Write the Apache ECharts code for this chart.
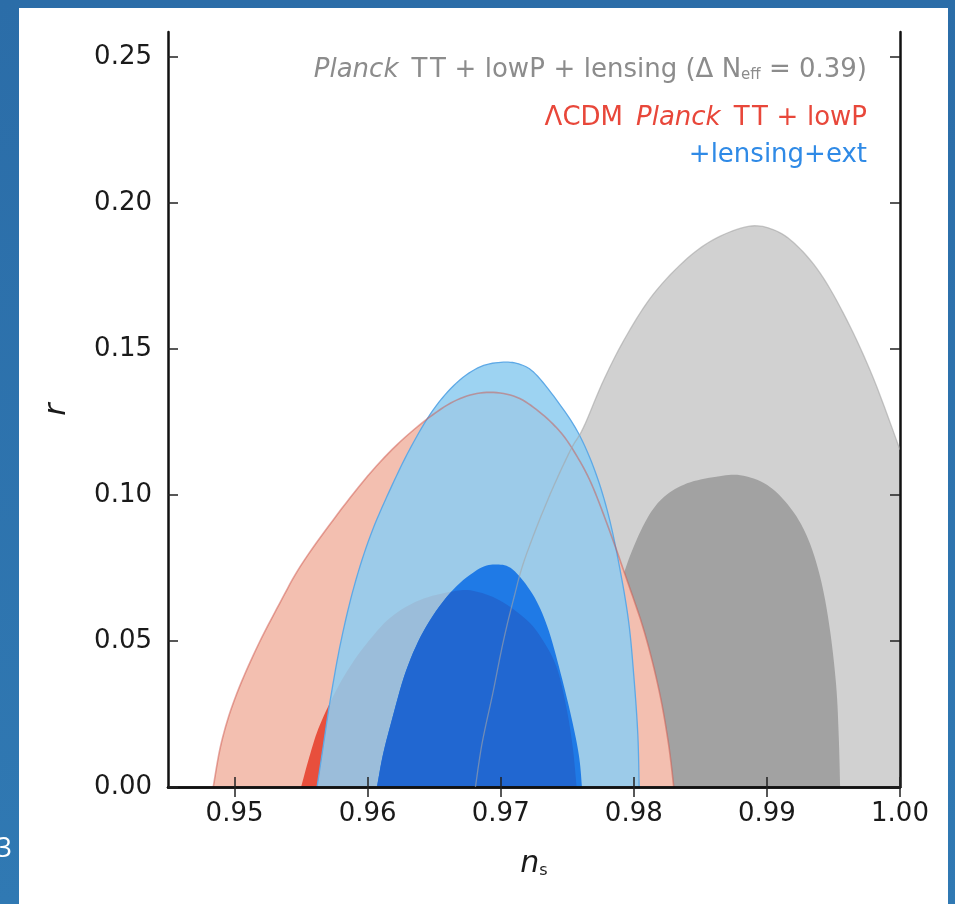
<!DOCTYPE html>
<html>
<head>
<meta charset="utf-8">
<script src="https://cdn.jsdelivr.net/npm/echarts@6/dist/echarts.min.js"></script>
<style>
  html, body { margin: 0; padding: 0; }
  #chart { width: 955px; height: 904px; }
</style>
</head>
<body>
<div id="chart"></div>
<script>
// axis ticks
const xTicks = [0.95, 0.96, 0.97, 0.98, 0.99, 1.00]
const yTicks = [0, 0.05, 0.10, 0.15, 0.20, 0.25]

// contour boundaries [n_s, r]
const grayOuter = [[0.9681,0],[0.9686,0.015],[0.9694,0.032],[0.9702,0.050],[0.9710,0.065],[0.9718,0.078],
  [0.9735,0.098],[0.9752,0.115],[0.9762,0.123],[0.9778,0.140],[0.9795,0.155],[0.9815,0.169],[0.9840,0.181],
  [0.9862,0.188],[0.9886,0.192],[0.9903,0.1912],[0.9920,0.1865],[0.9940,0.176],[0.9960,0.160],[0.9980,0.140],
  [1.0000,0.1155],[1.0000,0]]
const grayInner = [[0.9768,0],[0.9772,0.025],[0.9780,0.050],[0.9788,0.066],[0.9797,0.079],[0.9810,0.092],
  [0.9823,0.0995],[0.9840,0.1040],[0.9862,0.1063],[0.9880,0.1068],[0.9900,0.1035],[0.9917,0.096],[0.9930,0.086],
  [0.9940,0.072],[0.9947,0.055],[0.9952,0.035],[0.9954,0.017],[0.9955,0]]
const redOuter = [[0.9484,0],[0.9490,0.015],[0.9500,0.030],[0.9516,0.047],[0.9534,0.063],[0.9550,0.076],
  [0.9574,0.0914],[0.9600,0.1065],[0.9625,0.1185],[0.9652,0.1285],[0.9672,0.1335],[0.9692,0.1352],
  [0.9712,0.1335],[0.9729,0.1285],[0.9745,0.1215],[0.9757,0.1135],[0.9768,0.104],[0.9780,0.090],
  [0.9794,0.072],[0.9808,0.053],[0.9819,0.033],[0.9826,0.015],[0.9830,0]]
const redInner = [[0.9550,0],[0.9556,0.010],[0.9563,0.020],[0.9574,0.031],[0.9585,0.040],[0.9599,0.049],
  [0.9617,0.058],[0.9639,0.064],[0.9664,0.067],[0.9679,0.0672],[0.9699,0.064],[0.9720,0.057],[0.9732,0.050],
  [0.9742,0.041],[0.9749,0.028],[0.9754,0.014],[0.9757,0]]
const blueOuter = [[0.9562,0],[0.9566,0.012],[0.9572,0.030],[0.9580,0.050],[0.9590,0.069],[0.9602,0.086],
  [0.9616,0.101],[0.9632,0.116],[0.9649,0.129],[0.9667,0.1385],[0.9685,0.1440],[0.9702,0.1455],[0.9715,0.1447],
  [0.9726,0.1415],[0.9742,0.1325],[0.9758,0.1215],[0.9771,0.108],[0.9781,0.093],[0.9789,0.076],[0.9796,0.057],
  [0.9800,0.038],[0.9803,0.018],[0.9804,0]]
const blueInner = [[0.9607,0],[0.9611,0.010],[0.9617,0.021],[0.9629,0.040],[0.9644,0.055],[0.9664,0.0675],
  [0.9684,0.0748],[0.9697,0.0762],[0.9709,0.0745],[0.9724,0.066],[0.9735,0.055],[0.9745,0.039],[0.9754,0.022],
  [0.9759,0.010],[0.9761,0]]

const FONT = 'DejaVu Sans'

// Catmull-Rom through the mapped pixel points, so outlines are drawn as curves
function smooth(pts, steps = 8) {
  if (pts.length < 3) return pts
  const out = []
  for (let i = 0; i < pts.length - 1; i++) {
    const p0 = pts[Math.max(i - 1, 0)], p1 = pts[i], p2 = pts[i + 1], p3 = pts[Math.min(i + 2, pts.length - 1)]
    for (let s = 0; s < steps; s++) {
      const t = s / steps, t2 = t * t, t3 = t2 * t
      out.push([0, 1].map(k => 0.5 * (2 * p1[k] + (p2[k] - p0[k]) * t +
        (2 * p0[k] - 5 * p1[k] + 4 * p2[k] - p3[k]) * t2 + (3 * p1[k] - p0[k] - 3 * p2[k] + p3[k]) * t3)))
    }
  }
  out.push(pts[pts.length - 1])
  return out
}

// clip subject polygon by a convex polygon (Sutherland-Hodgman)
function clipPoly(subject, clip) {
  let area = 0
  for (let i = 0; i < clip.length; i++) {
    const a = clip[i], b = clip[(i + 1) % clip.length]
    area += a[0] * b[1] - b[0] * a[1]
  }
  const sgn = area > 0 ? 1 : -1
  const side = (p, a, b) => sgn * ((b[0] - a[0]) * (p[1] - a[1]) - (b[1] - a[1]) * (p[0] - a[0]))
  let out = subject.slice()
  for (let i = 0; i < clip.length && out.length; i++) {
    const a = clip[i], b = clip[(i + 1) % clip.length]
    const inp = out
    out = []
    for (let j = 0; j < inp.length; j++) {
      const p = inp[j], q = inp[(j + 1) % inp.length]
      const sp = side(p, a, b), sq = side(q, a, b)
      if (sp >= 0) out.push(p)
      if ((sp >= 0) !== (sq >= 0)) {
        const t = sp / (sp - sq)
        out.push([p[0] + t * (q[0] - p[0]), p[1] + t * (q[1] - p[1])])
      }
    }
  }
  return out
}

// map through the axes, smooth the curved part, keep `raw` trailing corner points as they are
function toPx(pts, api, raw = 0) {
  const m = pts.map(p => api.coord(p))
  return smooth(m.slice(0, m.length - raw)).concat(m.slice(m.length - raw))
}

function polySeries(name, pts, style, z, raw) {
  return {
    type: 'custom', name, coordinateSystem: 'cartesian2d', z, clip: true, silent: true,
    data: pts, encode: { x: 0, y: 1 },
    renderItem: (params, api) => params.dataIndex !== 0 ? null : ({
      type: 'polygon', shape: { points: toPx(pts, api, raw) }, style
    })
  }
}
function lineSeries(name, pts, style, z) {
  return {
    type: 'custom', name, coordinateSystem: 'cartesian2d', z, clip: true, silent: true,
    data: pts, encode: { x: 0, y: 1 },
    renderItem: (params, api) => params.dataIndex !== 0 ? null : ({
      type: 'polyline', shape: { points: toPx(pts, api) }, style: Object.assign({ fill: null }, style)
    })
  }
}
// part of the inner blue region lying over the inner red one (drawn darker)
function overlapSeries(z) {
  return {
    type: 'custom', name: 'overlap68', coordinateSystem: 'cartesian2d', z, clip: true, silent: true,
    data: redInner, encode: { x: 0, y: 1 },
    renderItem: (params, api) => params.dataIndex !== 0 ? null : ({
      type: 'polygon',
      shape: { points: clipPoly(toPx(redInner, api), toPx(blueInner, api)) },
      style: { fill: '#2167d1' }
    })
  }
}

function legendText(y, text, color) {
  return {
    type: 'text', z: 50,
    style: {
      x: 867, y, text, fill: color, fontSize: 26, fontFamily: FONT,
      align: 'right', textAlign: 'right', verticalAlign: 'middle', textVerticalAlign: 'middle',
      rich: {
        i: { fontStyle: 'italic', fontSize: 26, fontFamily: FONT, fill: color },
        s: { fontSize: 15, fontFamily: FONT, fill: color, verticalAlign: 'bottom' }
      }
    }
  }
}

const axisFont = { color: '#1a1a1a', fontSize: 26, fontFamily: FONT }
const frame = { lineStyle: { color: '#111', width: 2.5 } }
const tick = { inside: true, length: 10, lineStyle: { color: '#222', width: 1.5 } }
const PL = '\u2004+\u2004'   // math-style spacing round the plus signs

const chart = echarts.init(document.getElementById('chart'), null, { renderer: 'canvas' })
chart.setOption({
  animation: false,
  backgroundColor: '#2c71ad',
  grid: { left: 168, right: 55, top: 32, bottom: 117, outerBoundsMode: 'none' },
  xAxis: [{
    type: 'value', min: 0.945, max: 1.0, position: 'bottom', z: 10,
    axisLine: frame, splitLine: { show: false },
    axisTick: Object.assign({ customValues: xTicks }, tick),
    axisLabel: Object.assign({ customValues: xTicks, margin: 14, formatter: v => v.toFixed(2) }, axisFont),
    name: '{n|n}{s|s}', nameLocation: 'middle', nameGap: 62,
    nameTextStyle: { rich: {
      n: { fontStyle: 'italic', fontSize: 30, fontFamily: FONT, color: '#1a1a1a' },
      s: { fontSize: 16, fontFamily: FONT, color: '#1a1a1a', verticalAlign: 'bottom' }
    } }
  }, {
    type: 'value', min: 0.945, max: 1.0, position: 'top', z: 10,
    axisLine: frame, splitLine: { show: false },
    axisTick: Object.assign({ customValues: xTicks }, tick),
    axisLabel: { show: false }
  }],
  yAxis: [{
    type: 'value', min: 0, max: 0.2586, position: 'left', z: 10,
    axisLine: frame, splitLine: { show: false },
    axisTick: Object.assign({ customValues: yTicks }, tick),
    axisLabel: Object.assign({ customValues: yTicks, margin: 16, formatter: v => v.toFixed(2) }, axisFont),
    name: 'r', nameLocation: 'middle', nameGap: 96,
    nameTextStyle: { fontStyle: 'italic', fontSize: 30, fontFamily: FONT, color: '#1a1a1a' }
  }, {
    type: 'value', min: 0, max: 0.2586, position: 'right', z: 10,
    axisLine: frame, splitLine: { show: false },
    axisTick: Object.assign({ customValues: yTicks }, tick),
    axisLabel: { show: false }
  }],
  graphic: [
    { type: 'rect', z: -2, shape: { x: 0, y: 0, width: 955, height: 904 },
      style: { fill: new echarts.graphic.LinearGradient(0, 0, 0, 1, [
        { offset: 0, color: '#2b6da8' }, { offset: 1, color: '#3079b3' }]) } },
    { type: 'rect', z: -1, shape: { x: 19, y: 8, width: 929, height: 896 }, style: { fill: '#ffffff' } },
    { type: 'text', z: 5, style: { x: -4, y: 849, text: '3', fill: '#ffffff', fontSize: 28,
      fontFamily: 'Open Sans', verticalAlign: 'middle', textVerticalAlign: 'middle' } },
    legendText(70, '{i|Planck}\u2002T\u200aT' + PL + 'lowP' + PL + 'lensing (Δ N{s|eff} = 0.39)', '#8c8c8c'),
    legendText(118, 'ΛCDM\u2002{i|Planck}\u2002T\u200aT' + PL + 'lowP', '#e8473a'),
    legendText(155, '+lensing+ext', '#2f8ae6')
  ],
  series: [
    polySeries('grayOuter', grayOuter, { fill: '#d1d1d1' }, 2, 1),
    polySeries('grayInner', grayInner, { fill: '#a2a2a2' }, 3),
    polySeries('redOuter', redOuter, { fill: '#f3bfb0' }, 4),
    polySeries('redInner', redInner, { fill: '#e84f3c' }, 5),
    polySeries('blueOuter', blueOuter, { fill: 'rgba(143,205,240,0.88)' }, 6),
    lineSeries('blueOuterEdge', blueOuter, { stroke: '#5ea9e6', lineWidth: 1.3 }, 7),
    polySeries('blueInner', blueInner, { fill: '#1f7ae6' }, 8),
    overlapSeries(9),
    lineSeries('redOuterEdge', redOuter, { stroke: 'rgba(205,85,75,0.5)', lineWidth: 1.6 }, 10),
    lineSeries('grayOuterEdge', grayOuter.slice(0, -1), { stroke: 'rgba(165,165,165,0.6)', lineWidth: 1.3 }, 11)
  ]
})
</script>
</body>
</html>
